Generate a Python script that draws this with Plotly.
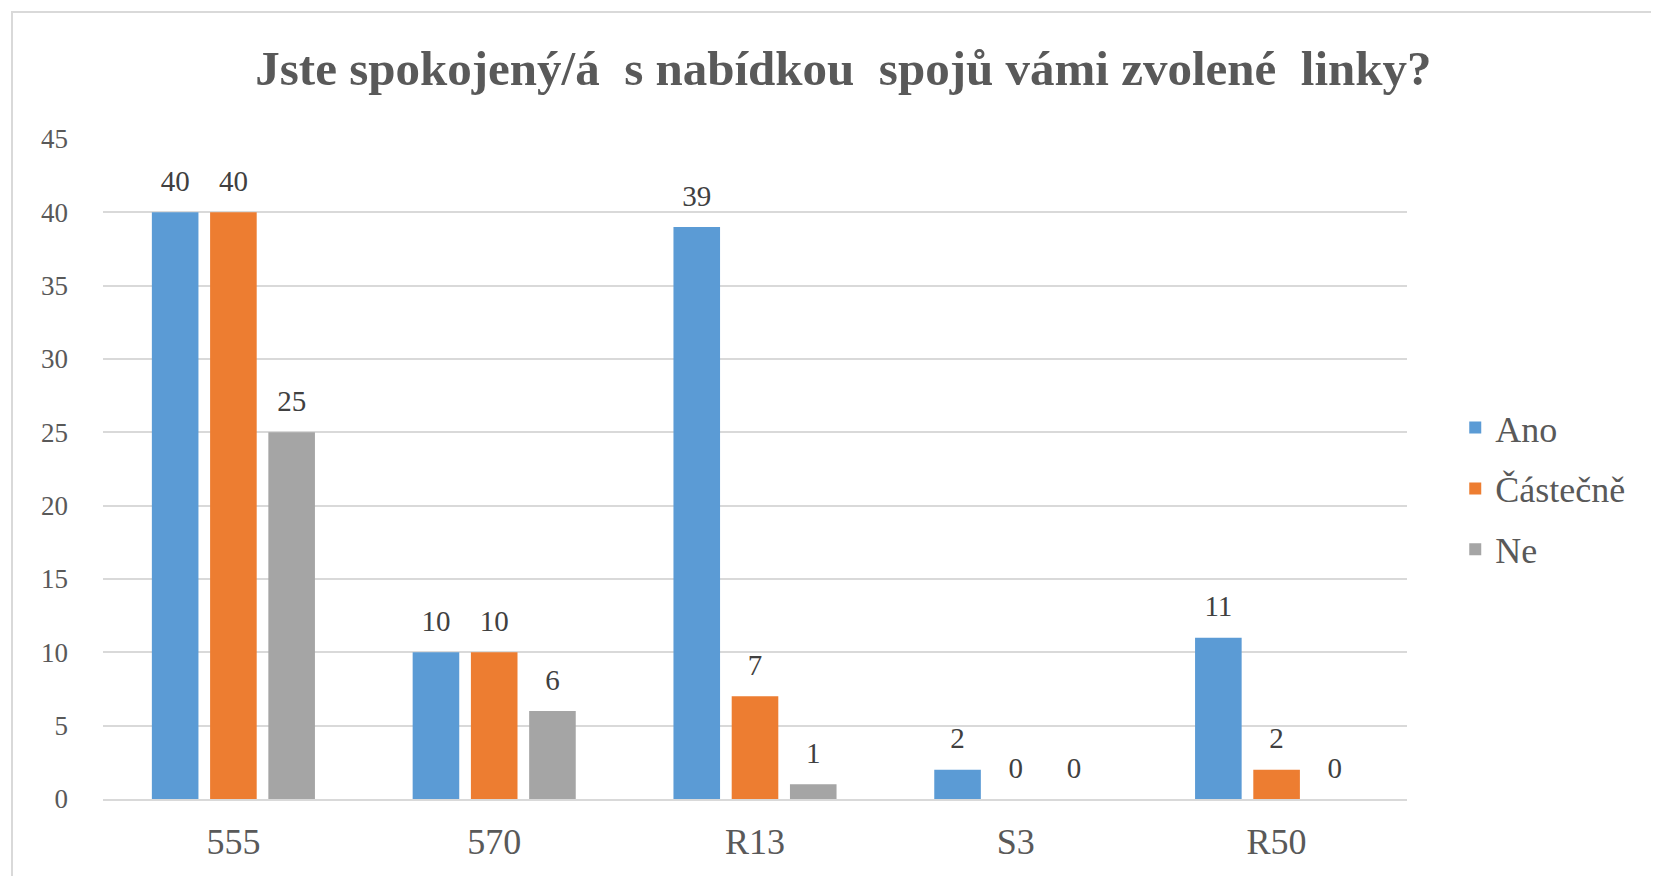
import plotly.graph_objects as go

# survey: "Jste spokojený/á s nabídkou spojů vámi zvolené linky?"
lines = ["555", "570", "R13", "S3", "R50"]
ano = [40, 10, 39, 2, 11]
castecne = [40, 10, 7, 0, 2]
ne = [25, 6, 1, 0, 0]

series = [("Ano", ano, "#5b9bd5"), ("Částečně", castecne, "#ed7d31"), ("Ne", ne, "#a5a5a5")]

serif = "Liberation Serif"

fig = go.Figure()
for i, (name, vals, color) in enumerate(series):
    fig.add_trace(go.Bar(
        x=lines, y=vals, name=name, legendgroup=str(i), offsetgroup=str(i),
        marker=dict(color=color, line=dict(width=0)),
    ))
# value labels, sitting a bit higher above the bars than bar text would
for i, (name, vals, color) in enumerate(series):
    fig.add_trace(go.Scatter(
        x=lines, y=vals, mode="markers+text", offsetgroup=str(i),
        marker=dict(size=21, opacity=0), text=vals, textposition="top center",
        textfont=dict(family=serif, size=29, color="#404040"),
        showlegend=False, hoverinfo="skip", cliponaxis=False,
    ))

# page has an 8px body margin, so the figure is 8px smaller
fig.update_layout(
    width=1651, height=868,
    margin=dict(l=95, r=252, t=131, b=77),
    paper_bgcolor="white", plot_bgcolor="white",
    barmode="group", bargap=0.33, bargroupgap=0.2,
    scattermode="group", scattergap=0.33,
    title=dict(
        text="<b>Jste spokojený/á\u00a0 s nabídkou\u00a0 spojů vámi zvolené\u00a0 linky?</b>",
        x=0.506, xref="container", xanchor="center",
        y=0.931, yref="container", yanchor="middle",
        font=dict(family=serif, size=49, color="#595959"),
    ),
    legend=dict(
        x=1.037, xanchor="left", y=0.608, yanchor="top",
        traceorder="grouped", tracegroupgap=11,
        font=dict(family=serif, size=36, color="#595959"),
    ),
    showlegend=True,
)

fig.update_xaxes(
    showline=True, linecolor="#d9d9d9", linewidth=2,
    ticks="", tickfont=dict(family=serif, size=36, color="#595959"),
    ticklabelstandoff=10,
)
fig.update_yaxes(
    range=[0, 45], dtick=5, showgrid=True, gridcolor="#d9d9d9", gridwidth=2,
    zeroline=False, ticks="",
    tickfont=dict(family=serif, size=27, color="#595959"),
    ticklabelstandoff=34,
)

# chart area border
fig.add_shape(type="rect", xref="paper", yref="paper",
              x0=(4 - 95) / 1304, x1=1.3, y0=(791 - 4) / 660, y1=-0.3,
              line=dict(color="#d9d9d9", width=2), layer="below")

fig.write_html("out.html")
